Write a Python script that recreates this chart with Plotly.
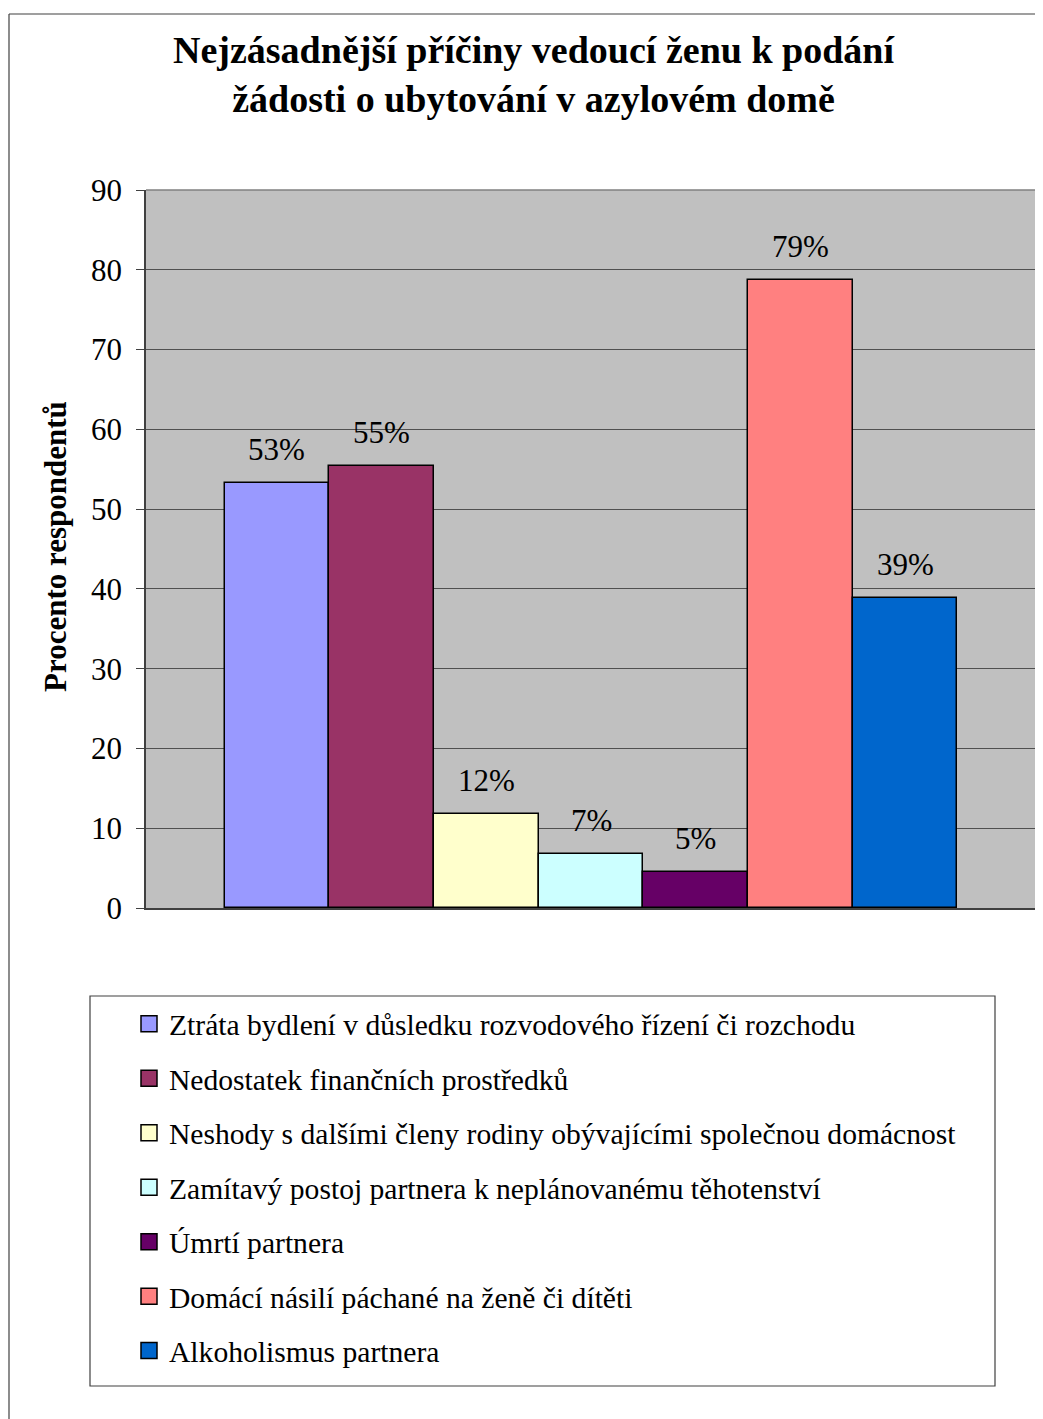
import plotly.graph_objects as go

categories = [
    "Ztráta bydlení v důsledku rozvodového řízení či rozchodu",
    "Nedostatek finančních prostředků",
    "Neshody s dalšími členy rodiny obývajícími společnou domácnost",
    "Zamítavý postoj partnera k neplánovanému těhotenství",
    "Úmrtí partnera",
    "Domácí násilí páchané na ženě či dítěti",
    "Alkoholismus partnera",
]
values = [53.3, 55.4, 11.8, 6.8, 4.5, 78.7, 38.9]
labels = ["53%", "55%", "12%", "7%", "5%", "79%", "39%"]
colors = ["#9999FF", "#993366", "#FFFFCC", "#CCFFFF", "#660066", "#FF8080", "#0066CC"]
y_ticks = [0, 10, 20, 30, 40, 50, 60, 70, 80, 90]

FONT = "Liberation Serif"
OFF = 8  # page body margin
W, H = 1043 - OFF, 1419 - OFF
L, R, T, B = 146, 1036, 190, 908  # plot area in window pixels


def px(x):
    return (x - L) / (R - L)


def py(y):
    return (B - y) / (B - T)


fig = go.Figure()
fig.add_trace(go.Bar(
    x=categories, y=values,
    marker=dict(color=colors, line=dict(color="black", width=1.5)),
    showlegend=False, hoverinfo="x+y",
))
for i, (cat, col) in enumerate(zip(categories, colors)):
    fig.add_trace(go.Scatter(
        x=[None], y=[None], mode="markers", name=cat, legendgroup=str(i),
        marker=dict(symbol="square", size=16, color=col, line=dict(color="black", width=1.5)),
    ))

annotations = [
    dict(text=lab, x=cat, y=val, xref="x", yref="y", showarrow=False,
         yanchor="bottom", yshift=14, font=dict(family=FONT, size=31, color="black"))
    for cat, val, lab in zip(categories, values, labels)
]
annotations.append(
    dict(text="<b>Nejzásadnější příčiny vedoucí ženu k podání<br>žádosti o ubytování v azylovém domě</b>",
         xref="paper", yref="paper", x=px(534), y=py(75), xanchor="center", yanchor="middle",
         showarrow=False, font=dict(family=FONT, size=38, color="black")))
annotations.append(
    dict(text="<b>Procento respondentů</b>", xref="paper", yref="paper", x=px(55), y=py(547),
         xanchor="center", yanchor="middle", textangle=-90, showarrow=False,
         font=dict(family=FONT, size=31, color="black")))

shapes = [
    dict(type="line", xref="paper", yref="paper", x0=px(9), x1=px(1043), y0=py(14), y1=py(14),
         line=dict(color="#404040", width=1.2)),
    dict(type="line", xref="paper", yref="paper", x0=px(9), x1=px(9), y0=py(14), y1=py(1419),
         line=dict(color="#404040", width=1.2)),
    dict(type="line", xref="paper", yref="paper", x0=0, x1=1, y0=1, y1=1,
         line=dict(color="#808080", width=1.5)),
    dict(type="line", xref="paper", yref="paper", x0=1, x1=1, y0=0, y1=1,
         line=dict(color="#808080", width=1.5)),
    dict(type="rect", xref="paper", yref="paper", x0=px(90), x1=px(995), y0=py(996), y1=py(1386),
         line=dict(color="#404040", width=1.2), fillcolor="rgba(0,0,0,0)"),
]

fig.update_layout(
    width=W, height=H,
    margin=dict(l=L - OFF, r=W - (R - OFF), t=T - OFF, b=H - (B - OFF)),
    paper_bgcolor="white", plot_bgcolor="#C0C0C0",
    bargap=0,
    font=dict(family=FONT, color="black"),
    shapes=shapes,
    annotations=annotations,
    showlegend=True,
    legend=dict(
        x=px(129), y=py(998), xanchor="left", yanchor="top",
        xref="paper", yref="paper",
        font=dict(family=FONT, size=29.6, color="black"),
        bgcolor="rgba(0,0,0,0)", borderwidth=0,
        tracegroupgap=13, traceorder="grouped",
    ),
)
fig.update_xaxes(type="category", range=[-1.25, 7.25], showticklabels=False, ticks="",
                 showgrid=False, zeroline=False, showline=True, linecolor="#404040", linewidth=1.5)
fig.update_yaxes(range=[0, 90], tickvals=y_ticks, ticks="outside", ticklen=8, tickcolor="#404040",
                 ticklabelstandoff=8,
                 tickfont=dict(family=FONT, size=31, color="black"),
                 showgrid=True, gridcolor="#505050", gridwidth=1, zeroline=False,
                 showline=True, linecolor="#404040", linewidth=1.5)

fig.write_html("out.html")
